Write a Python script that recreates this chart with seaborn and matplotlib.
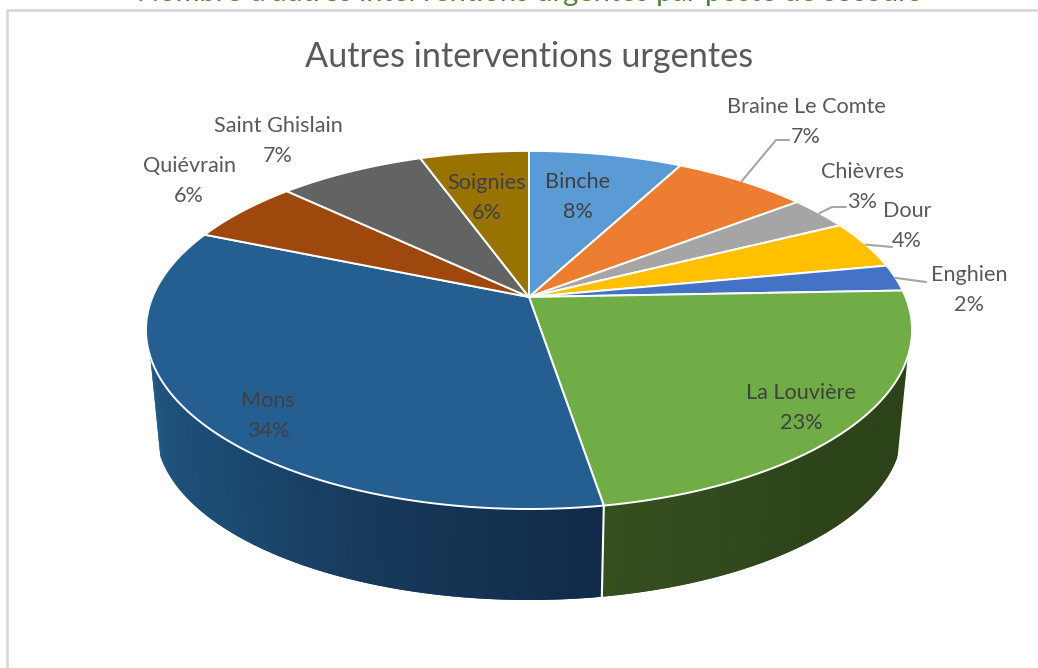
import numpy as np
import matplotlib
matplotlib.use("Agg")
import matplotlib.pyplot as plt
import seaborn as sns

# Data
postes = ["Binche", "Braine Le Comte", "Chièvres", "Dour", "Enghien",
          "La Louvière", "Mons", "Quiévrain", "Saint Ghislain", "Soignies"]
valeurs = [7.75, 6.8, 3.05, 4.4, 2.4, 23.0, 33.9, 5.8, 7.4, 5.5]
pourcents = [8, 7, 3, 4, 2, 23, 34, 6, 7, 6]
couleurs = ["#5B9BD5", "#ED7D31", "#A5A5A5", "#FFC000", "#4472C4",
            "#70AD47", "#255E91", "#9E480E", "#636363", "#997300"]
titre = "Autres interventions urgentes"
titre_haut = "Nombre d'autres interventions urgentes par poste de secours"

# label centres in pixels
pos_labels = {"Binche": (578, 197), "Braine Le Comte": (806, 122), "Chièvres": (862, 187),
              "Dour": (907, 226), "Enghien": (969, 290), "La Louvière": (801, 408),
              "Mons": (268, 416), "Quiévrain": (189, 181), "Saint Ghislain": (278, 141),
              "Soignies": (487, 198)}
# leader lines: elbow and end
leaders = {"Braine Le Comte": [(776, 140), (789, 140)],
           "Chièvres": [(832, 207), (846, 207)],
           "Dour": [(892, 247)],
           "Enghien": [(926, 282)]}

sns.set_theme(style="white")
plt.rcParams["font.family"] = ["Lato", "DejaVu Sans"]

fig = plt.figure(figsize=(10.38, 6.68), dpi=100)
ax = fig.add_axes([0, 0, 1, 1])
ax.set_xlim(0, 1038)
ax.set_ylim(668, 0)
ax.axis("off")

K = 0.184


def disque(theta, cy, a, b):
    # perspective view of a circle, theta clockwise from 12 o'clock
    u, v = np.sin(theta), np.cos(theta)
    w = 1 + K * v
    return 529 + b * u / w, cy - a * v / w


def haut(theta):
    return disque(theta, 297, 173, 376.5)


def bas(theta):
    return disque(theta, 399, 164, 366.6)


palette = sns.color_palette(couleurs)
bornes = np.cumsum([0] + valeurs) / sum(valeurs) * 2 * np.pi
i_louv = postes.index("La Louvière")
i_mons = postes.index("Mons")

# side wall, built with small steps so the shading can change along the rim
grad_louv = sns.blend_palette(["#2C431A", "#2D441B", "#364F1F"], 60)
grad_mons = sns.blend_palette(["#112A49", "#163858", "#1C4A72", "#1F5580"], 160)
for i, grad in [(i_louv, grad_louv), (i_mons, grad_mons)]:
    debut = max(bornes[i], np.radians(109))
    fin = min(bornes[i + 1], np.radians(251))
    t = np.linspace(debut, fin, len(grad) + 1)
    for j, c in enumerate(grad):
        # overlap the next step to hide the seams
        tt = np.linspace(t[j], t[min(j + 2, len(grad))], 4)
        x1, y1 = haut(tt)
        x2, y2 = bas(tt[::-1])
        ax.fill(np.r_[x1, x2], np.r_[y1, y2], color=c, lw=0, zorder=1 + j * 1e-4)

# white edge between the two walls
x1, y1 = haut(bornes[i_mons])
x2, y2 = bas(bornes[i_mons])
ax.plot([x1, x2], [y1, y2], color="white", lw=1.5, zorder=2)

# top of the pie
for i, nom in enumerate(postes):
    tt = np.linspace(bornes[i], bornes[i + 1], 80)
    x, y = haut(tt)
    ax.fill(np.r_[529, x], np.r_[297, y], facecolor=palette[i], edgecolor="white",
            lw=1.4, joinstyle="round", zorder=3)

# leader lines
for nom, pts in leaders.items():
    i = postes.index(nom)
    x0, y0 = haut((bornes[i] + bornes[i + 1]) / 2)
    xs = [x0] + [p[0] for p in pts]
    ys = [y0] + [p[1] for p in pts]
    ax.plot(xs, ys, color="#A6A6A6", lw=1.5, zorder=4)

# labels
for nom, val in zip(postes, pourcents):
    x, y = pos_labels[nom]
    c = "#404040" if nom in ("Binche", "La Louvière", "Mons", "Soignies") else "#595959"
    ax.text(x, y, f"{nom}\n{val}%", ha="center", va="center", fontsize=15.6,
            color=c, linespacing=1.6, zorder=5)

ax.text(529, 57, titre, ha="center", va="center", fontsize=24.7, color="#595959")
ax.text(529, 0.7, titre_haut, ha="center", va="baseline", fontsize=21, color="#538135")

# chart frame
ax.plot([7, 7, 1038], [668, 9.5, 9.5], color="#D9D9D9", lw=2, zorder=0)

fig.savefig("out.png", dpi=100, facecolor="white")
